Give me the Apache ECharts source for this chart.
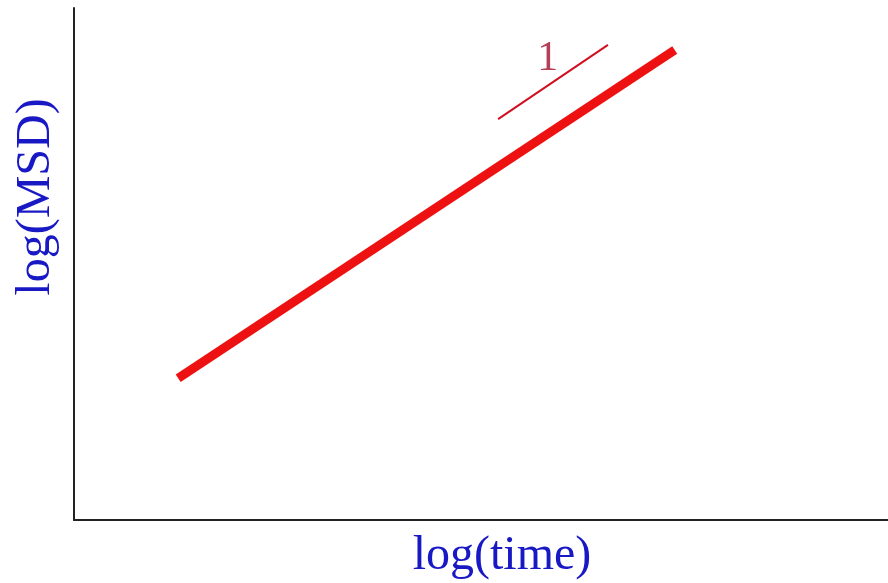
<!DOCTYPE html>
<html>
<head>
<meta charset="utf-8">
<script src="https://cdn.jsdelivr.net/npm/echarts@6/dist/echarts.min.js"></script>
<style>
  html, body { margin: 0; padding: 0; background: #ffffff; }
  #chart { width: 888px; height: 583px; }
</style>
</head>
<body>
<div id="chart"></div>
<script>
// Mean squared displacement vs. time on log-log axes (arbitrary log units)
const logTime = [1.28, 7.38];
const logMSD = [2.77, 9.18];

// Reference segment with slope 1 annotation
const refTime = [5.21, 6.56];
const refMSD = [7.83, 9.28];
const refLabel = '1';
const refLabelPos = [5.82, 9.00];

const xName = 'log(time)';
const yName = 'log(MSD)';

const chart = echarts.init(document.getElementById('chart'), null, { renderer: 'canvas' });

const serif = '"Liberation Serif", "DejaVu Serif", serif';

chart.setOption({
  backgroundColor: '#ffffff',
  animation: false,
  grid: { left: 74, right: -2, top: 8, bottom: 63 },
  xAxis: {
    type: 'value', min: 0, max: 10,
    axisLine: { show: true, lineStyle: { color: '#222', width: 2 } },
    axisTick: { show: false }, axisLabel: { show: false }, splitLine: { show: false }
  },
  yAxis: {
    type: 'value', min: 0, max: 10,
    axisLine: { show: true, lineStyle: { color: '#222', width: 2 } },
    axisTick: { show: false }, axisLabel: { show: false }, splitLine: { show: false }
  },
  series: [
    {
      type: 'line',
      data: logTime.map((t, i) => [t, logMSD[i]]),
      showSymbol: false,
      lineStyle: { color: '#ee1111', width: 9, cap: 'butt' }
    },
    {
      type: 'line',
      data: refTime.map((t, i) => [t, refMSD[i]]),
      showSymbol: false,
      lineStyle: { color: '#d01020', width: 2 }
    },
    {
      type: 'scatter',
      data: [refLabelPos],
      symbolSize: 0,
      label: {
        show: true, position: 'inside', formatter: refLabel,
        color: '#a0102c', fontFamily: serif, fontSize: 42
      }
    }
  ],
  graphic: [
    {
      type: 'text', x: 502, y: 556,
      style: {
        text: xName, fill: '#1818c4', font: '48px ' + serif,
        align: 'center', verticalAlign: 'middle'
      }
    },
    {
      type: 'text', x: 36, y: 197, rotation: Math.PI / 2,
      style: {
        text: yName, fill: '#1818c4', font: '48px ' + serif,
        align: 'center', verticalAlign: 'middle'
      }
    }
  ]
});
</script>
</body>
</html>
